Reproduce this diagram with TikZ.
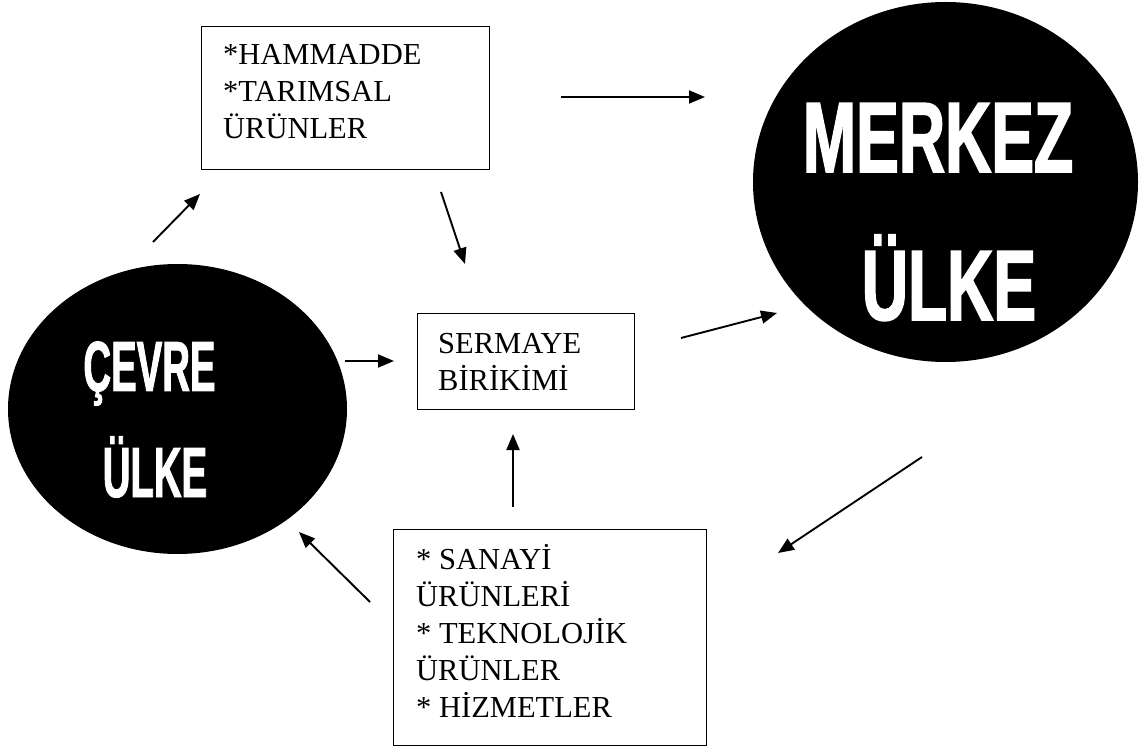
\documentclass[tikz,border=0pt]{standalone}
\usepackage{fontspec}
\setmainfont{Liberation Serif}
\newfontfamily\cevrefont[FakeStretch=0.54,FakeBold=1.2]{Liberation Sans}
\newfontfamily\merkezfont[FakeStretch=0.64,FakeBold=1.5]{Liberation Sans}
\usetikzlibrary{shapes.geometric,arrows.meta}
\begin{document}
\begin{tikzpicture}[x=1pt,y=-1pt,
  box/.style={draw, line width=1.3pt, inner sep=0pt, anchor=north west},
  txt/.style={anchor=base west, inner sep=0pt, font=\fontsize{30.5}{37}\selectfont},
  blob/.style={ellipse, fill=black, inner sep=0pt},
  ctxt/.style={anchor=base, inner sep=0pt, text=white, font=\cevrefont\bfseries\fontsize{71}{71}\selectfont},
  mtxt/.style={anchor=base, inner sep=0pt, text=white, font=\merkezfont\bfseries\fontsize{100}{100}\selectfont},
  arr/.style={-{Triangle[length=16pt,width=13pt]}, line width=1.9pt}]
\useasboundingbox (0,0) rectangle (1141,751);
% boxes
\node[box, minimum width=288pt, minimum height=143pt] (tb) at (201,26) {};
\node[txt] (tbt) at (223,65) {\vtop{\hbox{*HAMMADDE}\hbox{*TARIMSAL}\hbox{ÜRÜNLER}}};
\node[box, minimum width=217pt, minimum height=96pt] (mb) at (417,313) {};
\node[txt] (mbt) at (438,354) {\vtop{\hbox{SERMAYE}\hbox{BİRİKİMİ}}};
\node[box, minimum width=313pt, minimum height=216pt] (bb) at (393,529) {};
\node[txt] (bbt) at (416,569) {\vtop{\hbox{* SANAYİ}\hbox{ÜRÜNLERİ}\hbox{* TEKNOLOJİK}\hbox{ÜRÜNLER}\hbox{* HİZMETLER}}};
% ellipses
\node[blob, minimum width=339pt, minimum height=290pt] (cevre) at (177.5,409) {};
\node[ctxt] (c1) at (149.5,391) {ÇEVRE};
\node[ctxt] (c2) at (155,497) {ÜLKE};
\node[blob, minimum width=385pt, minimum height=360pt] (merkez) at (945.5,182) {};
\node[mtxt] (m1) at (938,172) {MERKEZ};
\node[mtxt] (m2) at (949,320) {ÜLKE};
% arrow end points
\coordinate (a1s) at (153,242); \coordinate (a1e) at (200,194);
\coordinate (a2s) at (561,97);  \coordinate (a2e) at (705,97);
\coordinate (a3s) at (441,192); \coordinate (a3e) at (465,264);
\coordinate (a4s) at (345,361); \coordinate (a4e) at (394,361);
\coordinate (a5s) at (681,338); \coordinate (a5e) at (777,313);
\coordinate (a6s) at (922,457); \coordinate (a6e) at (778,553);
\coordinate (a7s) at (513,507); \coordinate (a7e) at (513,434);
\coordinate (a8s) at (370,602); \coordinate (a8e) at (299,532);
\draw[arr] (a1s) -- (a1e);
\draw[arr] (a2s) -- (a2e);
\draw[arr] (a3s) -- (a3e);
\draw[arr] (a4s) -- (a4e);
\draw[arr] (a5s) -- (a5e);
\draw[arr] (a6s) -- (a6e);
\draw[arr] (a7s) -- (a7e);
\draw[arr] (a8s) -- (a8e);
\end{tikzpicture}
\end{document}
